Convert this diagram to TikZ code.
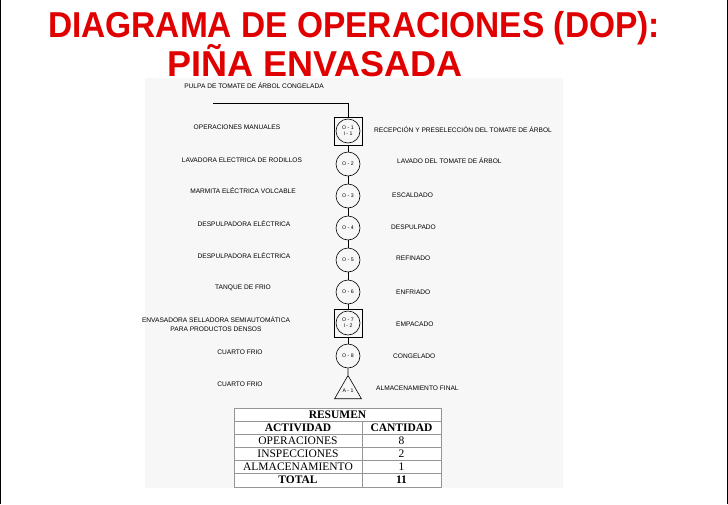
\documentclass[tikz,border=0pt]{standalone}
\usepackage{fontspec}
\setmainfont{Liberation Sans}
\newfontfamily\tabserif{Liberation Serif}
\usetikzlibrary{shapes.geometric}
\definecolor{titlered}{RGB}{224,0,0}
\definecolor{panelgray}{RGB}{247,247,247}
\definecolor{tabline}{RGB}{150,150,150}
\begin{document}
\begin{tikzpicture}[x=1pt,y=-1pt,
  titletext/.style={text=titlered,inner sep=0pt,anchor=base,text depth=0pt,font=\fontsize{36}{38}\selectfont\bfseries},
  lbl/.style={inner sep=0pt,font=\fontsize{6.6}{8.5}\selectfont},
  opnode/.style={circle,draw,line width=0.6pt,minimum size=24pt,inner sep=0pt,font=\fontsize{5.2}{5.8}\selectfont,align=center},
  inspbox/.style={rectangle,draw,line width=0.6pt,minimum size=28pt,inner sep=0pt},
  storenode/.style={regular polygon,regular polygon sides=3,draw,line width=0.6pt,minimum size=30pt,inner sep=0pt,font=\fontsize{5.2}{5.8}\selectfont},
  conn/.style={line width=0.6pt},
  cell/.style={inner sep=0pt,font=\tabserif\fontsize{11.5}{12}\selectfont},
  boldcell/.style={inner sep=0pt,font=\tabserif\fontsize{11.5}{12}\selectfont\bfseries},
  tl/.style={draw=tabline,line width=0.6pt}
]
\useasboundingbox (0,0) rectangle (728,504);
\fill[white] (0,0) rectangle (728,504);
\draw[line width=1.2pt] (0.6,0) -- (0.6,504);
\draw[line width=1.2pt] (727.4,0) -- (727.4,504);
\fill[panelgray] (145,78) rectangle (563,488);

% title
\node[titletext] (t1) at (354,37) {\scalebox{0.93}[1]{DIAGRAMA DE OPERACIONES (DOP):}};
\node[titletext] (t2) at (315,76) {PIÑA ENVASADA};

% process chart nodes
\node[inspbox] (n1) at (348,131) {};
\node[opnode] (c1) at (n1.center) {O - 1\\I - 1};
\node[opnode] (n2) at (348,164) {O - 2};
\node[opnode] (n3) at (348,196) {O - 3};
\node[opnode] (n4) at (348,228) {O - 4};
\node[opnode] (n5) at (348,260) {O - 5};
\node[opnode] (n6) at (348,292) {O - 6};
\node[inspbox] (n7) at (348,323) {};
\node[opnode] (c7) at (n7.center) {O - 7\\I - 2};
\node[opnode] (n8) at (348,356) {O - 8};
\node[storenode] (n9) at (348,391) {A - 1};

\coordinate (s0) at (213,103);
\coordinate (s1) at (348,103);
\draw[conn] (s0) -- (s1) -- (n1.north);
\draw[conn] (n1) -- (n2);
\draw[conn] (n2) -- (n3);
\draw[conn] (n3) -- (n4);
\draw[conn] (n4) -- (n5);
\draw[conn] (n5) -- (n6);
\draw[conn] (n6) -- (n7);
\draw[conn] (n7) -- (n8);
\draw[conn] (n8) -- (n9.north);

% left labels
\node[lbl] (p0) at (254,86) {PULPA DE TOMATE DE ÁRBOL CONGELADA};
\node[lbl] (l1) at (237,127) {OPERACIONES MANUALES};
\node[lbl] (l2) at (242,160) {LAVADORA ELECTRICA DE RODILLOS};
\node[lbl] (l3) at (243,191) {MARMITA ELÉCTRICA VOLCABLE};
\node[lbl] (l4) at (244,224) {DESPULPADORA ELÉCTRICA};
\node[lbl] (l5) at (244,256) {DESPULPADORA ELÉCTRICA};
\node[lbl] (l6) at (243,288) {TANQUE DE FRIO};
\node[lbl,align=center] (l7) at (216,324) {ENVASADORA SELLADORA SEMIAUTOMÁTICA\\PARA PRODUCTOS DENSOS};
\node[lbl] (l8) at (240,352) {CUARTO FRIO};
\node[lbl] (l9) at (240,384) {CUARTO FRIO};

% right labels
\node[lbl,anchor=west] (r1) at (374,130) {RECEPCIÓN Y PRESELECCIÓN DEL TOMATE DE ÁRBOL};
\node[lbl,anchor=west] (r2) at (397,161) {LAVADO DEL TOMATE DE ÁRBOL};
\node[lbl,anchor=west] (r3) at (392,195) {ESCALDADO};
\node[lbl,anchor=west] (r4) at (391,227) {DESPULPADO};
\node[lbl,anchor=west] (r5) at (396,258) {REFINADO};
\node[lbl,anchor=west] (r6) at (396,292) {ENFRIADO};
\node[lbl,anchor=west] (r7) at (396,324) {EMPACADO};
\node[lbl,anchor=west] (r8) at (393,356) {CONGELADO};
\node[lbl,anchor=west] (r9) at (376,388) {ALMACENAMIENTO FINAL};

% summary table
\fill[white] (234,408) rectangle (441,487);
\draw[tl] (234,408) rectangle (441,487);
\foreach \yy in {421,434,447,460,473} \draw[tl] (234,\yy) -- (441,\yy);
\draw[tl] (362,421) -- (362,487);
\node[boldcell] (h0) at (337.5,415) {RESUMEN};
\node[boldcell] (h1) at (298,428) {ACTIVIDAD};
\node[boldcell] (h2) at (401.5,428) {CANTIDAD};
\node[cell] (a1) at (298,441) {OPERACIONES};
\node[cell] (b1) at (401.5,441) {8};
\node[cell] (a2) at (298,454) {INSPECCIONES};
\node[cell] (b2) at (401.5,454) {2};
\node[cell] (a3) at (298,467) {ALMACENAMIENTO};
\node[cell] (b3) at (401.5,467) {1};
\node[boldcell] (a4) at (298,480) {TOTAL};
\node[boldcell] (b4) at (401.5,480) {11};
\end{tikzpicture}
\end{document}
